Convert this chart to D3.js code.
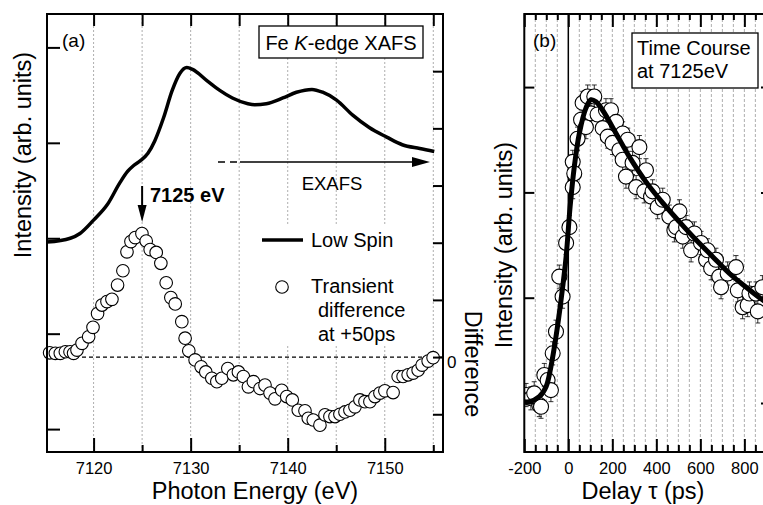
<!DOCTYPE html>
<html>
<head>
<meta charset="utf-8">
<script src="https://cdn.jsdelivr.net/npm/d3@7"></script>
<title>Fe K-edge XAFS</title>
<style>
  body { margin: 0; background: #fff; }
  text { font-family: "Liberation Sans", Arial, sans-serif; fill: #000; }
</style>
</head>
<body>
<svg id="chart" width="763" height="505"></svg>
<script>
// ---- panel (a): Fe K-edge XAFS ----
var lowSpinE = [7115.2, 7117.6, 7118.6, 7120.0, 7121.4, 7122.7, 7123.5, 7124.1, 7124.8, 7125.6, 7126.3, 7127.2, 7128.1, 7128.9, 7129.6, 7130.2, 7131.7, 7133.0, 7134.3, 7135.9, 7136.6, 7137.8, 7139.5, 7140.9, 7142.5, 7143.6, 7145.0, 7146.7, 7148.4, 7150.2, 7151.8, 7153.6, 7155.1];
var lowSpinI = [1.96, 2.00, 2.05, 2.19, 2.35, 2.58, 2.70, 2.76, 2.81, 2.89, 3.02, 3.26, 3.55, 3.73, 3.79, 3.77, 3.65, 3.55, 3.47, 3.41, 3.40, 3.41, 3.47, 3.53, 3.56, 3.53, 3.45, 3.29, 3.16, 3.06, 2.98, 2.94, 2.91];

var diffE = [7115.47, 7116.06, 7116.57, 7117.09, 7117.57, 7117.94, 7118.29, 7118.81, 7119.49, 7119.94,
             7120.41, 7120.86, 7121.38, 7121.89, 7122.47, 7123.02, 7123.44, 7123.85, 7124.29, 7124.98,
             7125.42, 7125.83, 7126.45, 7126.93, 7127.48, 7127.96, 7128.41, 7129.09, 7129.43, 7129.81,
             7130.46, 7131.08, 7131.56, 7132.18, 7132.70, 7133.21, 7133.83, 7134.40, 7134.92, 7135.43,
             7135.95, 7136.46, 7137.15, 7137.66, 7138.18, 7138.69, 7139.38, 7139.90, 7140.47, 7141.09,
             7141.78, 7142.12, 7142.63, 7143.32, 7143.84, 7144.35, 7144.87, 7145.38, 7145.90, 7146.41,
             7146.93, 7147.44, 7147.96, 7148.47, 7148.99, 7149.50, 7150.01, 7150.86, 7151.38, 7151.89,
             7152.41, 7152.92, 7153.44, 7153.85, 7154.47, 7154.98];
var diffV = [0.075, 0.065, 0.065, 0.093, 0.093, 0.065, 0.122, 0.24, 0.355, 0.52,
             0.76, 0.91, 0.97, 1.01, 1.26, 1.51, 1.84, 2.02, 2.09, 2.16,
             2.03, 1.88, 1.83, 1.64, 1.30, 1.04, 0.93, 0.62, 0.33, 0.11,
             -0.05, -0.17, -0.26, -0.37, -0.43, -0.37, -0.20, -0.31, -0.26, -0.34,
             -0.52, -0.43, -0.55, -0.49, -0.63, -0.73, -0.58, -0.69, -0.75, -0.93,
             -0.94, -1.07, -1.10, -1.19, -1.01, -1.04, -1.04, -1.00, -0.96, -0.93,
             -0.87, -0.75, -0.78, -0.78, -0.69, -0.63, -0.59, -0.62, -0.34, -0.34,
             -0.31, -0.28, -0.23, -0.14, -0.07, -0.01];

var energyLabels = [7120, 7130, 7140, 7150];
var energyMinor = [7125, 7135, 7145, 7155];
var energyGrid = [7120, 7125, 7130, 7135, 7140, 7145, 7150, 7155];
var intensityTicksA = [0, 1, 2, 3, 4];
var diffTicks = [-1, 0, 1, 2, 3, 4, 5];

// ---- panel (b): time course at 7125 eV ----
var tcDelay = [-192, -170, -155, -132, -124, -109, -94, -79, -71, -56, -41, -26, -10, 5, 20, 20, 27, 42, 58, 65,
               80, 88, 103, 118, 133, 156, 171, 179, 194, 201, 217, 232, 247, 247, 262, 270, 292, 308, 323, 345,
               353, 376, 383, 406, 429, 459, 482, 490, 505, 520, 535, 558, 573, 603, 626, 633, 649, 671, 686, 694,
               724, 762, 770, 792, 815, 823, 853, 861, 882];
var tcValue = [0.076, 0.045, 0.092, -0.019, -0.035, 0.266, 0.218, 0.123, 0.472, 0.677, 1.20, 1.01, 1.52, 1.67, 2.05, 2.29, 2.18, 2.51, 2.69, 2.85,
               2.62, 2.91, 2.75, 2.91, 2.74, 2.61, 2.78, 2.53, 2.78, 2.47, 2.67, 2.40, 2.56, 2.31, 2.15, 2.50, 2.28, 2.05, 2.43, 2.01,
               2.21, 1.96, 2.01, 1.86, 1.93, 1.77, 1.64, 1.67, 1.82, 1.58, 1.67, 1.45, 1.61, 1.52, 1.36, 1.45, 1.28, 1.36, 1.20, 1.10,
               1.23, 1.29, 1.07, 0.91, 0.93, 1.04, 1.04, 0.87, 1.10];
var tcError = 0.11;

var fitDelay = [-200, -177, -132, -101, -79, -56, -33, -10, 8, 27, 50, 80, 103, 126, 156, 217, 277, 353, 429, 505, 580, 656, 732, 808, 882, 920];
var fitValue = [0.012, 0.012, 0.06, 0.155, 0.345, 0.63, 0.98, 1.39, 1.86, 2.24, 2.56, 2.80, 2.88, 2.86, 2.78, 2.56, 2.34, 2.10, 1.90, 1.72, 1.55, 1.39, 1.23, 1.10, 0.98, 0.93];

var delayLabels = [-200, 0, 200, 400, 600, 800];
var delayMinor = [-150, -100, -50, 50, 100, 150, 250, 300, 350, 450, 500, 550, 650, 700, 750, 850, 900];
var delayGrid = [-150, -100, -50, 50, 100, 150, 200, 250, 300, 350, 400, 450, 500, 550, 600, 650, 700, 750, 800, 850, 900];
var intensityTicksB = [0, 1, 2, 3];

var svg = d3.select("#chart");
var plain = d => String(d);

function tickStyle(g) {
  g.select(".domain").remove();
  g.selectAll("line").attr("stroke-width", 2);
  g.selectAll("text").attr("font-size", 16.5).attr("font-family", "Liberation Sans, Arial, sans-serif");
}

// ================= panel (a) =================
var A = {left: 47, right: 443, top: 14, bottom: 452};
var xA = d3.scaleLinear().domain([7115.2, 7156]).range([A.left, A.right]);
var yA = d3.scaleLinear().domain([-0.24, 4.35]).range([A.bottom, A.top]);
var yD = d3.scaleLinear().domain([-1.66, 6.0]).range([A.bottom, A.top]);

var ga = svg.append("g");

ga.selectAll("line.grid").data(energyGrid).enter().append("line")
  .attr("x1", d => xA(d)).attr("x2", d => xA(d))
  .attr("y1", A.top).attr("y2", A.bottom)
  .attr("stroke", "#999").attr("stroke-width", 0.8).attr("stroke-dasharray", "2,2");

// zero line of the difference axis
ga.append("line")
  .attr("x1", A.left).attr("x2", A.right)
  .attr("y1", yD(0)).attr("y2", yD(0))
  .attr("stroke", "#000").attr("stroke-width", 1.4).attr("stroke-dasharray", "4,3");

// white backgrounds of the legends
ga.append("rect").attr("x", 252).attr("y", 226).attr("width", 178).attr("height", 120).attr("fill", "#fff");
ga.append("rect").attr("x", 259).attr("y", 26).attr("width", 164).attr("height", 32)
  .attr("fill", "#fff").attr("stroke", "#000").attr("stroke-width", 1.3);

var lineA = d3.line().x((d, i) => xA(lowSpinE[i])).y(d => yA(d)).curve(d3.curveMonotoneX);
ga.append("path").datum(lowSpinI).attr("d", lineA)
  .attr("fill", "none").attr("stroke", "#000").attr("stroke-width", 3.5).attr("stroke-linejoin", "round");

ga.selectAll("circle.diff").data(diffV).enter().append("circle")
  .attr("cx", (d, i) => xA(diffE[i])).attr("cy", d => yD(d)).attr("r", 6.3)
  .attr("fill", "#fff").attr("stroke", "#000").attr("stroke-width", 1.1);

// frame and ticks
ga.append("rect").attr("x", A.left).attr("y", A.top)
  .attr("width", A.right - A.left).attr("height", A.bottom - A.top)
  .attr("fill", "none").attr("stroke", "#000").attr("stroke-width", 2);

ga.append("g").attr("transform", "translate(0," + A.bottom + ")")
  .call(d3.axisBottom(xA).tickValues(energyLabels).tickSizeInner(-14).tickSizeOuter(0).tickPadding(10).tickFormat(plain))
  .call(tickStyle);
ga.append("g").attr("transform", "translate(0," + A.bottom + ")")
  .call(d3.axisBottom(xA).tickValues(energyMinor).tickSizeInner(-7).tickSizeOuter(0).tickFormat(""))
  .call(tickStyle);
ga.append("g").attr("transform", "translate(0," + A.top + ")")
  .call(d3.axisTop(xA).tickValues(energyGrid).tickSizeInner(-12).tickSizeOuter(0).tickFormat(""))
  .call(tickStyle);
ga.append("g").attr("transform", "translate(" + A.left + ",0)")
  .call(d3.axisLeft(yA).tickValues(intensityTicksA).tickSizeInner(-13).tickSizeOuter(0).tickFormat(""))
  .call(tickStyle);
ga.append("g").attr("transform", "translate(" + A.right + ",0)")
  .call(d3.axisRight(yD).tickValues(diffTicks).tickSizeInner(-10).tickSizeOuter(0).tickFormat(""))
  .call(tickStyle);

ga.append("text").attr("x", 447).attr("y", 368).attr("font-size", 17).text("0");

// labels
ga.append("text").attr("transform", "translate(31,155) rotate(-90)")
  .attr("text-anchor", "middle").attr("font-size", 23.5).text("Intensity (arb. units)");
ga.append("text").attr("transform", "translate(465,364) rotate(90)")
  .attr("text-anchor", "middle").attr("font-size", 23.5).text("Difference");
ga.append("text").attr("x", 255).attr("y", 499)
  .attr("text-anchor", "middle").attr("font-size", 23.5).text("Photon Energy (eV)");
ga.append("text").attr("x", 62).attr("y", 47).attr("font-size", 19).text("(a)");

var title = ga.append("text").attr("x", 341).attr("y", 50).attr("text-anchor", "middle").attr("font-size", 20);
title.append("tspan").text("Fe ");
title.append("tspan").attr("font-style", "italic").text("K");
title.append("tspan").text("-edge XAFS");

// EXAFS arrow
ga.append("line").attr("x1", 218).attr("x2", 240).attr("y1", 162).attr("y2", 162)
  .attr("stroke", "#000").attr("stroke-width", 1.5).attr("stroke-dasharray", "7,5");
ga.append("line").attr("x1", 240).attr("x2", 414).attr("y1", 162).attr("y2", 162)
  .attr("stroke", "#000").attr("stroke-width", 1.5);
ga.append("path").attr("d", "M412,157 L430,162 L412,167 Z").attr("fill", "#000");
ga.append("text").attr("x", 332).attr("y", 190).attr("text-anchor", "middle").attr("font-size", 18.5).text("EXAFS");

// 7125 eV marker
ga.append("line").attr("x1", xA(7125)).attr("x2", xA(7125)).attr("y1", 186).attr("y2", 210)
  .attr("stroke", "#000").attr("stroke-width", 2);
ga.append("path").attr("d", "M" + (xA(7125) - 4.5) + ",205 L" + xA(7125) + ",222 L" + (xA(7125) + 4.5) + ",205 Z").attr("fill", "#000");
ga.append("text").attr("x", 150).attr("y", 202).attr("font-size", 20).attr("font-weight", "bold").text("7125 eV");

// legend
ga.append("line").attr("x1", 262).attr("x2", 303).attr("y1", 240).attr("y2", 240)
  .attr("stroke", "#000").attr("stroke-width", 3.5);
ga.append("text").attr("x", 311).attr("y", 247).attr("font-size", 20).text("Low Spin");
ga.append("circle").attr("cx", 282).attr("cy", 287).attr("r", 6.3)
  .attr("fill", "#fff").attr("stroke", "#000").attr("stroke-width", 1.1);
ga.append("text").attr("x", 311).attr("y", 293).attr("font-size", 20).text("Transient");
ga.append("text").attr("x", 318).attr("y", 317).attr("font-size", 20).text("difference");
ga.append("text").attr("x", 318).attr("y", 341).attr("font-size", 20).text("at +50ps");

// ================= panel (b) =================
var B = {left: 524.3, right: 771, top: 14, bottom: 452};
var xB = d3.scaleLinear().domain([-200, 921]).range([B.left, B.right]);
var yB = d3.scaleLinear().domain([-0.465, 3.694]).range([B.bottom, B.top]);

var gb = svg.append("g");
gb.append("clipPath").attr("id", "clipB").append("rect")
  .attr("x", B.left).attr("y", B.top).attr("width", B.right - B.left).attr("height", B.bottom - B.top);

gb.selectAll("line.grid").data(delayGrid).enter().append("line")
  .attr("x1", d => xB(d)).attr("x2", d => xB(d))
  .attr("y1", B.top).attr("y2", B.bottom)
  .attr("stroke", "#999").attr("stroke-width", 0.8).attr("stroke-dasharray", "3,2");
gb.append("line").attr("x1", xB(0)).attr("x2", xB(0)).attr("y1", B.top).attr("y2", B.bottom)
  .attr("stroke", "#000").attr("stroke-width", 1.5);

gb.append("rect").attr("x", 632).attr("y", 33).attr("width", 126).attr("height", 55)
  .attr("fill", "#fff").attr("stroke", "#000").attr("stroke-width", 1.3);
gb.append("text").attr("x", 637).attr("y", 55).attr("font-size", 20).text("Time Course");
gb.append("text").attr("x", 637).attr("y", 78).attr("font-size", 20).text("at 7125eV");

var marks = gb.append("g").attr("clip-path", "url(#clipB)");
var eb = marks.selectAll("g.err").data(tcValue).enter().append("g");
eb.append("line")
  .attr("x1", (d, i) => xB(tcDelay[i])).attr("x2", (d, i) => xB(tcDelay[i]))
  .attr("y1", d => yB(d - tcError)).attr("y2", d => yB(d + tcError))
  .attr("stroke", "#000").attr("stroke-width", 0.8);
eb.append("line")
  .attr("x1", (d, i) => xB(tcDelay[i]) - 2.5).attr("x2", (d, i) => xB(tcDelay[i]) + 2.5)
  .attr("y1", d => yB(d + tcError)).attr("y2", d => yB(d + tcError))
  .attr("stroke", "#000").attr("stroke-width", 0.8);
eb.append("line")
  .attr("x1", (d, i) => xB(tcDelay[i]) - 2.5).attr("x2", (d, i) => xB(tcDelay[i]) + 2.5)
  .attr("y1", d => yB(d - tcError)).attr("y2", d => yB(d - tcError))
  .attr("stroke", "#000").attr("stroke-width", 0.8);

marks.selectAll("circle.tc").data(tcValue).enter().append("circle")
  .attr("cx", (d, i) => xB(tcDelay[i])).attr("cy", d => yB(d)).attr("r", 7.5)
  .attr("fill", "#fff").attr("stroke", "#000").attr("stroke-width", 1.1);

var lineB = d3.line().x((d, i) => xB(fitDelay[i])).y(d => yB(d)).curve(d3.curveCatmullRom);
marks.append("path").datum(fitValue).attr("d", lineB)
  .attr("fill", "none").attr("stroke", "#000").attr("stroke-width", 5).attr("stroke-linejoin", "round");

gb.append("rect").attr("x", B.left).attr("y", B.top)
  .attr("width", B.right - B.left).attr("height", B.bottom - B.top)
  .attr("fill", "none").attr("stroke", "#000").attr("stroke-width", 2);

gb.append("g").attr("transform", "translate(0," + B.bottom + ")")
  .call(d3.axisBottom(xB).tickValues(delayLabels).tickSizeInner(-13).tickSizeOuter(0).tickPadding(10).tickFormat(plain))
  .call(tickStyle);
gb.append("g").attr("transform", "translate(0," + B.bottom + ")")
  .call(d3.axisBottom(xB).tickValues(delayMinor).tickSizeInner(-7).tickSizeOuter(0).tickFormat(""))
  .call(tickStyle);
gb.append("g").attr("transform", "translate(0," + B.top + ")")
  .call(d3.axisTop(xB).tickValues(delayLabels).tickSizeInner(-13).tickSizeOuter(0).tickFormat(""))
  .call(tickStyle);
gb.append("g").attr("transform", "translate(0," + B.top + ")")
  .call(d3.axisTop(xB).tickValues(delayMinor).tickSizeInner(-6).tickSizeOuter(0).tickFormat(""))
  .call(tickStyle);
gb.append("g").attr("transform", "translate(" + B.left + ",0)")
  .call(d3.axisLeft(yB).tickValues(intensityTicksB).tickSizeInner(-10).tickSizeOuter(0).tickFormat(""))
  .call(tickStyle);
gb.append("g").attr("transform", "translate(" + B.right + ",0)")
  .call(d3.axisRight(yB).tickValues(intensityTicksB).tickSizeInner(-10).tickSizeOuter(0).tickFormat(""))
  .call(tickStyle);

gb.append("text").attr("x", 533).attr("y", 47).attr("font-size", 19).text("(b)");
gb.append("text").attr("transform", "translate(512,245) rotate(-90)")
  .attr("text-anchor", "middle").attr("font-size", 23.5).text("Intensity (arb. units)");
gb.append("text").attr("x", 643).attr("y", 499)
  .attr("text-anchor", "middle").attr("font-size", 23.5).text("Delay τ (ps)");
</script>
</body>
</html>
